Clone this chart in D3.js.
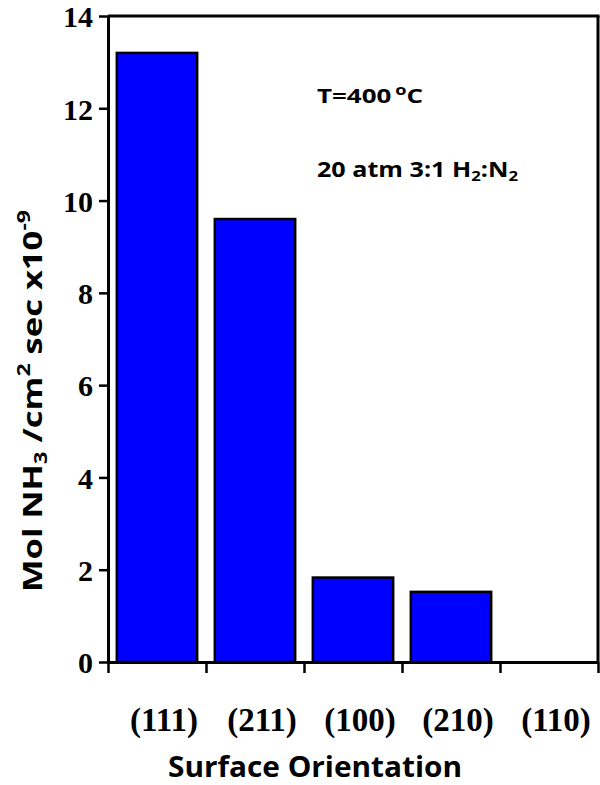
<!DOCTYPE html>
<html>
<head>
<meta charset="utf-8">
<script src="https://cdn.jsdelivr.net/npm/d3@7"></script>
<style>
  body { margin: 0; background: #fff; }
  svg { display: block; }
</style>
</head>
<body>
<svg id="canvas" width="600" height="785"></svg>
<script>
// data
let orientations = ['(111)', '(211)', '(100)', '(210)', '(110)'];
let rates = [13.2, 9.6, 1.83, 1.52, 0];
let yTicks = [0, 2, 4, 6, 8, 10, 12, 14];

let canvas = d3.select('#canvas');

let plotLeft = 108, plotRight = 598, plotTop = 16, plotBottom = 662;

let x = d3.scaleBand()
  .domain(orientations)
  .range([plotLeft, plotRight])
  .paddingInner(0.18)
  .paddingOuter(0.09);

// band boundaries for the x tick marks
let xEdges = d3.scaleLinear().domain([0, orientations.length]).range([plotLeft, plotRight]);

let y = d3.scaleLinear().domain([0, 14]).range([plotBottom, plotTop]);

// bars
canvas.selectAll('rect.bar')
  .data(orientations)
  .enter()
  .append('rect')
  .attr('class', 'bar')
  .attr('x', (d) => x(d))
  .attr('width', x.bandwidth())
  .attr('y', (d, i) => y(rates[i]))
  .attr('height', (d, i) => y(0) - y(rates[i]))
  .attr('fill', '#0000ff')
  .attr('stroke', '#000')
  .attr('stroke-width', 2.5);

// frame top and right
canvas.append('line')
  .attr('x1', plotLeft).attr('x2', plotRight + 1.5)
  .attr('y1', plotTop).attr('y2', plotTop)
  .attr('stroke', '#000').attr('stroke-width', 3);
canvas.append('line')
  .attr('x1', plotRight).attr('x2', plotRight)
  .attr('y1', plotTop).attr('y2', plotBottom)
  .attr('stroke', '#000').attr('stroke-width', 3);

// y axis
let yAxis = canvas.append('g')
  .attr('transform', 'translate(' + plotLeft + ',0)')
  .call(d3.axisLeft(y).tickValues(yTicks).tickSize(9).tickSizeOuter(0).tickPadding(6));
yAxis.select('.domain').attr('stroke-width', 3);
yAxis.selectAll('.tick line').attr('stroke-width', 2.5);
yAxis.selectAll('.tick text')
  .attr('font-family', '"Liberation Serif", "Times New Roman", serif')
  .attr('font-weight', 'bold')
  .attr('font-size', 30)
  .attr('dy', '0.36em')
  .attr('fill', '#000');

// x axis (ticks at band edges)
let xAxis = canvas.append('g')
  .attr('transform', 'translate(0,' + plotBottom + ')')
  .call(d3.axisBottom(xEdges).tickValues(d3.range(orientations.length + 1)).tickSize(11).tickSizeOuter(0).tickFormat(''));
xAxis.select('.domain').attr('stroke-width', 3);
xAxis.selectAll('.tick line').attr('stroke-width', 2.5);

// x category labels
canvas.selectAll('text.xlab')
  .data(orientations)
  .enter()
  .append('text')
  .attr('class', 'xlab')
  .attr('x', (d) => x(d) + x.bandwidth() / 2 + 7)
  .attr('y', 731)
  .attr('text-anchor', 'middle')
  .attr('font-family', '"Liberation Serif", "Times New Roman", serif')
  .attr('font-weight', 'bold')
  .attr('font-size', 33)
  .text((d) => d);

let sans = '"Open Sans", Lato, sans-serif';

// x title
canvas.append('text')
  .attr('x', 168)
  .attr('y', 777)
  .attr('font-family', sans)
  .attr('font-weight', 'bold')
  .attr('font-size', 28)
  .attr('textLength', 294)
  .attr('lengthAdjust', 'spacingAndGlyphs')
  .text('Surface Orientation');

// y title
let yTitle = canvas.append('text')
  .attr('transform', 'translate(42,592) rotate(-90)')
  .attr('font-family', sans)
  .attr('font-weight', 'bold')
  .attr('font-size', 27)
  .attr('textLength', 382)
  .attr('lengthAdjust', 'spacingAndGlyphs');
yTitle.append('tspan').text('Mol NH');
yTitle.append('tspan').attr('font-size', 17).attr('dy', 5).text('3');
yTitle.append('tspan').attr('dy', -5).text(' /cm');
yTitle.append('tspan').attr('font-size', 18).attr('dy', -12).text('2');
yTitle.append('tspan').attr('dy', 12).text(' sec x10');
yTitle.append('tspan').attr('font-size', 18).attr('dy', -12).text('-9');

// annotations
let note1 = canvas.append('text')
  .attr('x', 317).attr('y', 103)
  .attr('font-family', sans)
  .attr('font-weight', 'bold')
  .attr('font-size', 20)
  .attr('textLength', 106)
  .attr('lengthAdjust', 'spacingAndGlyphs');
note1.append('tspan').text('T=400');
note1.append('tspan').attr('font-size', 14).attr('dy', -8).attr('dx', 3).text('o');
note1.append('tspan').attr('dy', 8).text('C');

let note2 = canvas.append('text')
  .attr('x', 317).attr('y', 177)
  .attr('font-family', sans)
  .attr('font-weight', 'bold')
  .attr('font-size', 21)
  .attr('textLength', 201)
  .attr('lengthAdjust', 'spacingAndGlyphs');
note2.append('tspan').text('20 atm 3:1 H');
note2.append('tspan').attr('font-size', 14).attr('dy', 4).text('2');
note2.append('tspan').attr('dy', -4).text(':N');
note2.append('tspan').attr('font-size', 14).attr('dy', 4).text('2');
</script>
</body>
</html>
